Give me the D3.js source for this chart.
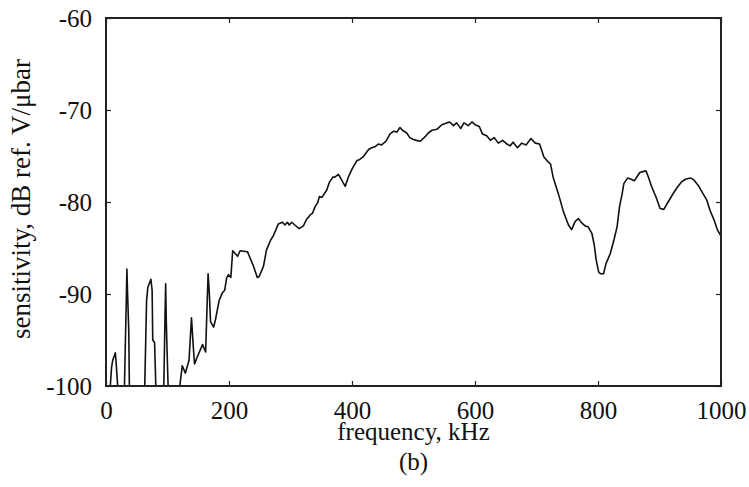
<!DOCTYPE html>
<html>
<head>
<meta charset="utf-8">
<script src="https://cdn.jsdelivr.net/npm/d3@7"></script>
<style>
body { margin: 0; background: #fff; }
svg text { font-family: "Liberation Serif", "Times New Roman", serif; fill: #111; }
.axis path, .axis line { stroke: #222; }
</style>
</head>
<body>
<svg class="main" width="749" height="487"></svg>
<script>
// frequency (kHz) and sensitivity (dB ref. V/ubar); null = below -100, line breaks
var freq = [
  7, 9, 11, 15, 16, 19, 20,
  30, 33, 34, 35, 37, 38, 39,
  63, 66, 68, 73, 75, 76, 79, 81, 82,
  94, 96, 97, 98, 99, 101, 102,
  120, 124, 129, 135, 139, 142, 144, 148, 157, 162, 166, 168, 170, 175, 178, 184,
  189, 193, 196, 199, 203, 206, 214, 218, 230, 240, 246, 249, 256, 261, 268, 272,
  280, 287, 291, 295, 298, 302, 307, 314, 321, 326, 332, 336, 340, 344, 347,
  351, 359, 363, 369, 372, 378, 383, 389, 394, 401, 408, 412, 418, 427, 432, 437,
  443, 448, 455, 462, 468, 473, 478, 482, 489, 494, 500, 505, 511, 519, 524,
  530, 538, 546, 554, 559, 565, 570, 577, 582, 589, 595, 600, 607, 612, 619, 625,
  631, 638, 645, 652, 657, 662, 669, 676, 683, 691, 698, 705, 708, 712,
  717, 723, 727, 736, 744, 752, 757, 763, 768, 774, 779, 784, 790, 794, 797, 801,
  804, 809, 813, 820, 826, 831, 835, 839, 842, 848, 853, 859, 864, 868,
  873, 878, 882, 887, 894, 901, 907, 914, 922, 929, 936, 943, 951, 956, 963,
  970, 977, 982, 989, 994, 1000
];
var sens = [
  -100, -98.0, -97.2, -96.4, -97.0, -100, null,
  -100, -90.7, -87.3, -89.8, -93.9, -100, null,
  -100, -90.7, -89.3, -88.4, -89.6, -95.0, -95.3, -100, null,
  -100, -92.3, -88.9, -92.8, -95.5, -100, null,
  -100, -97.8, -98.6, -97.2, -92.6, -95.8, -97.6, -96.9, -95.5, -96.3, -87.8, -89.9, -93.0, -93.6, -92.8, -90.7,
  -89.9, -89.6, -88.3, -87.9, -88.2, -85.3, -85.9, -85.3, -85.4, -87.0, -88.2, -88.1, -87.0, -85.2, -84.1, -83.7,
  -82.4, -82.2, -82.5, -82.2, -82.5, -82.2, -82.5, -82.9, -82.6, -81.9, -81.4, -81.2, -80.5, -80.1, -79.4,
  -79.5, -78.7, -77.9, -77.3, -77.3, -77.0, -77.6, -78.3, -77.3, -76.3, -75.5, -75.4, -75.1, -74.3, -74.1, -74.0,
  -73.7, -73.8, -73.4, -72.6, -72.3, -72.4, -71.9, -72.2, -72.5, -73.0, -73.2, -73.3, -73.4, -72.9, -72.5,
  -72.2, -72.1, -71.6, -71.4, -71.3, -71.7, -71.4, -72.0, -71.4, -71.7, -71.3, -71.6, -71.8, -72.6, -72.8, -73.3,
  -73.0, -73.6, -73.3, -73.7, -73.9, -73.5, -74.1, -73.6, -73.8, -73.1, -73.6, -73.7, -74.3, -75.1,
  -75.5, -75.9, -77.3, -79.2, -81.1, -82.5, -83.0, -82.1, -81.8, -82.3, -82.6, -82.7, -83.4, -84.7, -86.3, -87.6,
  -87.8, -87.8, -86.7, -85.6, -84.1, -82.7, -80.5, -79.2, -78.0, -77.4, -77.5, -77.7, -77.2, -76.8,
  -76.7, -76.6, -77.3, -78.3, -79.4, -80.7, -80.8, -80.0, -79.1, -78.4, -77.8, -77.5, -77.4, -77.6, -78.2,
  -79.0, -79.8, -80.9, -82.0, -83.0, -83.7
];
var xTicks = [0, 200, 400, 600, 800, 1000];
var yTicks = [-100, -90, -80, -70, -60];
var xTitle = "frequency, kHz";
var yTitle = "sensitivity, dB ref. V/\u03bcbar";
var caption = "(b)";

var pLeft = 106, pRight = 721, pTop = 18, pBottom = 386;

var svg = d3.select("svg.main");

var x = d3.scaleLinear().domain([0, 1000]).range([pLeft, pRight]);
var y = d3.scaleLinear().domain([-100, -60]).range([pBottom, pTop]);

var fs = 25;
var plain = function (d) { return String(d); };

// the curve
var pts = freq.map(function (f, i) { return [f, sens[i]]; });
var line = d3.line()
    .defined(function (d) { return d[1] != null; })
    .x(function (d) { return x(d[0]); })
    .y(function (d) { return y(d[1]); });

svg.append("path")
    .datum(pts)
    .attr("d", line)
    .attr("fill", "none")
    .attr("stroke", "#111")
    .attr("stroke-width", 1.6)
    .attr("stroke-linejoin", "round");

// mirrored inward ticks
function axisBox(gen, tx, ty, labels) {
    var g = svg.append("g")
        .attr("class", "axis")
        .attr("transform", "translate(" + tx + "," + ty + ")")
        .call(gen);
    g.select(".domain").remove();
    g.selectAll("line").attr("stroke-width", 1.2);
    if (!labels) g.selectAll("text").remove();
    return g;
}

var bx = axisBox(d3.axisBottom(x).tickValues(xTicks).tickFormat(plain).tickSizeInner(-5).tickSizeOuter(0).tickPadding(15), 0, pBottom, true);
axisBox(d3.axisTop(x).tickValues(xTicks).tickSizeInner(-5).tickSizeOuter(0), 0, pTop, false);
var ly = axisBox(d3.axisLeft(y).tickValues(yTicks).tickFormat(plain).tickSizeInner(-5).tickSizeOuter(0).tickPadding(14), pLeft, 0, true);
axisBox(d3.axisRight(y).tickValues(yTicks).tickSizeInner(-5).tickSizeOuter(0), pRight, 0, false);

bx.selectAll("text").attr("font-size", fs).attr("font-family", "Liberation Serif").attr("fill", "#111");
ly.selectAll("text").attr("font-size", fs).attr("font-family", "Liberation Serif").attr("fill", "#111");

// frame
svg.append("rect")
    .attr("x", pLeft).attr("y", pTop)
    .attr("width", pRight - pLeft).attr("height", pBottom - pTop)
    .attr("fill", "none")
    .attr("stroke", "#222")
    .attr("stroke-width", 2);

svg.append("text")
    .attr("x", (pLeft + pRight) / 2)
    .attr("y", 440)
    .attr("text-anchor", "middle")
    .attr("font-size", fs)
    .text(xTitle);

svg.append("text")
    .attr("x", (pLeft + pRight) / 2)
    .attr("y", 470)
    .attr("text-anchor", "middle")
    .attr("font-size", fs)
    .text(caption);

svg.append("text")
    .attr("transform", "translate(30,199) rotate(-90)")
    .attr("text-anchor", "middle")
    .attr("font-size", 27)
    .text(yTitle);
</script>
</body>
</html>
